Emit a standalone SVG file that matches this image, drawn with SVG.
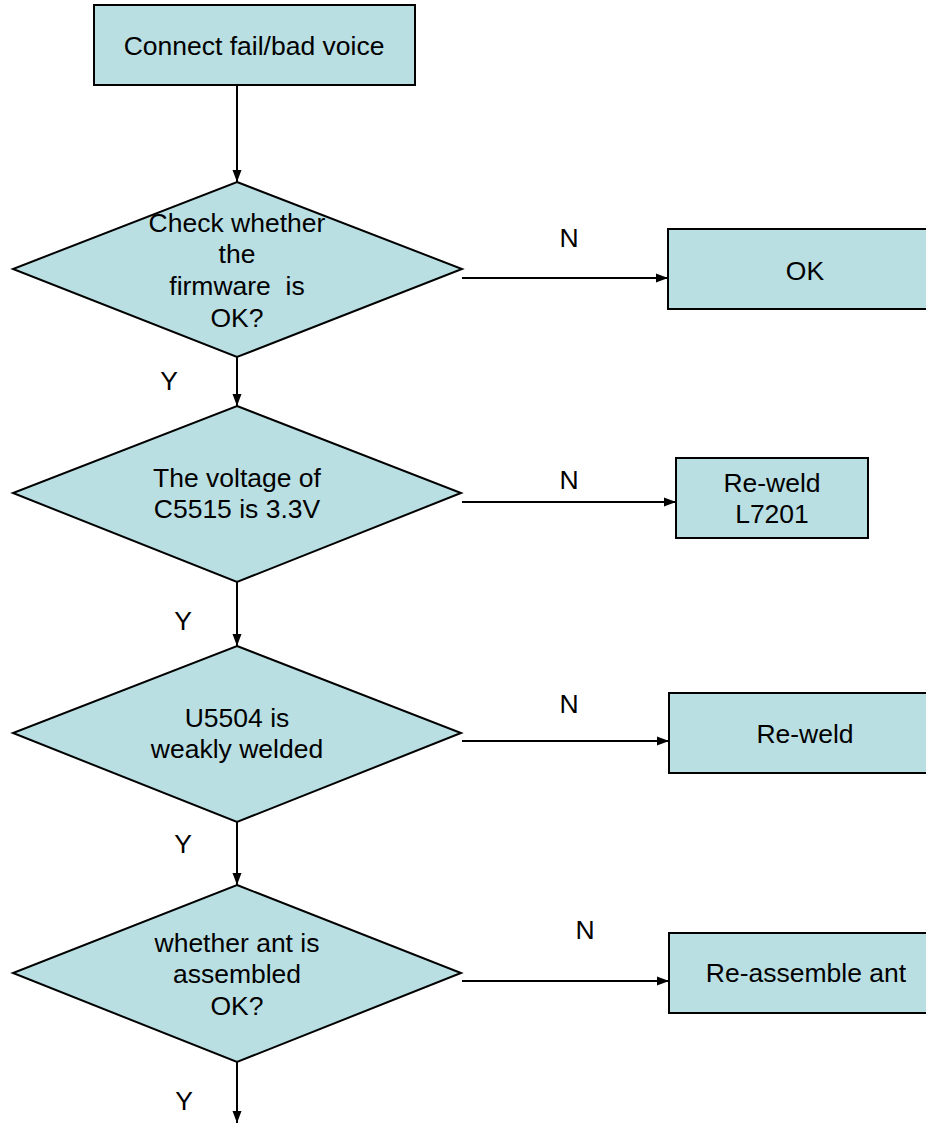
<svg xmlns="http://www.w3.org/2000/svg" width="926" height="1124" viewBox="0 0 926 1124">
<defs>
<style>
.box{fill:#B9DFE3;stroke:#000;stroke-width:2}
.t{font-family:"Liberation Sans",Arial,sans-serif;font-size:26.5px;fill:#000;text-anchor:middle;white-space:pre}
.c{stroke:#000;stroke-width:2;fill:none}
</style>
<marker id="ah" viewBox="0 0 12 10" refX="12" refY="5" markerWidth="12" markerHeight="10" markerUnits="userSpaceOnUse" orient="auto">
<path d="M0,0.5 L12,5 L0,9.5 z" fill="#000"/>
</marker>
</defs>
<rect width="926" height="1124" fill="#fff"/>
<g id="connectors">
<line class="c" x1="237" y1="86" x2="237" y2="182" marker-end="url(#ah)"/>
<line class="c" x1="237" y1="357" x2="237" y2="406" marker-end="url(#ah)"/>
<line class="c" x1="237" y1="582" x2="237" y2="646" marker-end="url(#ah)"/>
<line class="c" x1="237" y1="822" x2="237" y2="885" marker-end="url(#ah)"/>
<line class="c" x1="237" y1="1062" x2="237" y2="1123" marker-end="url(#ah)"/>
<line class="c" x1="462" y1="278" x2="668" y2="278" marker-end="url(#ah)"/>
<line class="c" x1="462" y1="502" x2="676" y2="502" marker-end="url(#ah)"/>
<line class="c" x1="462" y1="741" x2="669" y2="741" marker-end="url(#ah)"/>
<line class="c" x1="462" y1="981" x2="669" y2="981" marker-end="url(#ah)"/>
<text class="t" x="169" y="390">Y</text>
<text class="t" x="183" y="630">Y</text>
<text class="t" x="183" y="853">Y</text>
<text class="t" x="184" y="1110">Y</text>
<text class="t" x="569" y="247">N</text>
<text class="t" x="569" y="489">N</text>
<text class="t" x="569" y="713">N</text>
<text class="t" x="585" y="939">N</text>
</g>
<g id="start">
<rect class="box" x="94" y="5" width="321" height="80"/>
<text class="t" x="254" y="55">Connect fail/bad voice</text>
</g>
<g id="d1">
<polygon class="box" points="237,182 462,269 237,357 13,269"/>
<text class="t" x="237" y="232">Check whether</text>
<text class="t" x="237" y="263">the</text>
<text class="t" x="237" y="295" xml:space="preserve">firmware  is</text>
<text class="t" x="237" y="327">OK?</text>
</g>
<g id="ok">
<rect class="box" x="668" y="229" width="275" height="80"/>
<text class="t" x="805" y="280">OK</text>
</g>
<g id="d2">
<polygon class="box" points="237,406 461,493 237,582 13,493"/>
<text class="t" x="237" y="487">The voltage of</text>
<text class="t" x="237" y="518">C5515 is 3.3V</text>
</g>
<g id="reweld1">
<rect class="box" x="676" y="458" width="192" height="80"/>
<text class="t" x="772" y="492">Re-weld</text>
<text class="t" x="772" y="523">L7201</text>
</g>
<g id="d3">
<polygon class="box" points="237,646 461,733 237,822 13,733"/>
<text class="t" x="237" y="727">U5504 is</text>
<text class="t" x="237" y="758">weakly welded</text>
</g>
<g id="reweld2">
<rect class="box" x="669" y="693" width="274" height="80"/>
<text class="t" x="805" y="743">Re-weld</text>
</g>
<g id="d4">
<polygon class="box" points="237,885 461,973 237,1062 13,973"/>
<text class="t" x="237" y="952">whether ant is</text>
<text class="t" x="237" y="983">assembled</text>
<text class="t" x="237" y="1015">OK?</text>
</g>
<g id="reassemble">
<rect class="box" x="669" y="933" width="274" height="80"/>
<text class="t" x="806" y="982">Re-assemble ant</text>
</g>
</svg>
